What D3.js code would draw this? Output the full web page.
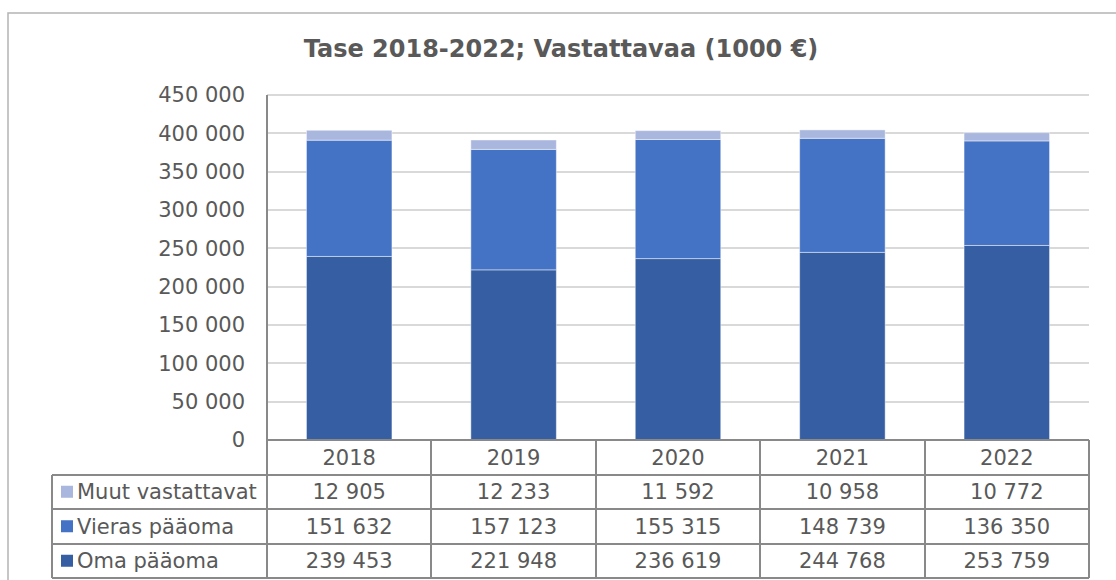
<!DOCTYPE html>
<meta charset="utf-8">
<head>
    <style>
        body {
            margin: 0;
            background: #fff;
        }

        svg text {
            font-family: 'DejaVu Sans', Verdana, sans-serif;
            fill: #595959;
        }

        .grid line {
            stroke: #d9d9d9;
            stroke-width: 2;
            shape-rendering: crispEdges;
        }

        .tbl line {
            stroke: #898989;
            stroke-width: 2;
            shape-rendering: crispEdges;
        }
    </style>
</head>

<body>
    <svg id="chart"></svg>

    <script src="https://cdnjs.cloudflare.com/ajax/libs/d3/7.8.5/d3.min.js"></script>
    <script>

        // data
        var years = ["2018", "2019", "2020", "2021", "2022"];
        var omaPaaoma = [239453, 221948, 236619, 244768, 253759];
        var vierasPaaoma = [151632, 157123, 155315, 148739, 136350];
        var muutVastattavat = [12905, 12233, 11592, 10958, 10772];
        var yTicks = [0, 50000, 100000, 150000, 200000, 250000, 300000, 350000, 400000, 450000];

        // series in stacking order (bottom first)
        var series = [
            { name: "Oma pääoma", values: omaPaaoma, color: "#365ea3" },
            { name: "Vieras pääoma", values: vierasPaaoma, color: "#4472c4" },
            { name: "Muut vastattavat", values: muutVastattavat, color: "#a9b6dd" }
        ];

        var W = 1116, H = 580;
        var plotLeft = 267, plotRight = 1089, plotTop = 95, plotBottom = 440;
        var rowH = 34.5;
        var tableLeft = 52;

        var fmt = d3.formatLocale({ decimal: ",", thousands: " ", grouping: [3] }).format(",d");

        var svg = d3.select("#chart")
            .attr("width", W)
            .attr("height", H);

        // chart frame, runs off the right and bottom edge
        svg.append("rect")
            .attr("x", 8).attr("y", 13)
            .attr("width", W + 20).attr("height", H + 20)
            .attr("fill", "none")
            .attr("stroke", "#b4b4b4")
            .attr("stroke-width", 1.5);

        svg.append("text")
            .attr("x", 561)
            .attr("y", 57)
            .attr("text-anchor", "middle")
            .style("font-size", "24px")
            .style("font-weight", "bold")
            .text("Tase 2018-2022; Vastattavaa (1000 €)");

        var x = d3.scaleBand()
            .domain(years)
            .range([plotLeft, plotRight])
            .padding(0);

        var y = d3.scaleLinear()
            .domain([0, 450000])
            .range([plotBottom, plotTop]);

        // gridlines
        svg.append("g")
            .attr("class", "grid")
            .selectAll("line")
            .data(yTicks.slice(1))
            .enter()
            .append("line")
            .attr("x1", plotLeft)
            .attr("x2", plotRight)
            .attr("y1", function (d) { return Math.round(y(d)); })
            .attr("y2", function (d) { return Math.round(y(d)); });

        // y axis labels
        var yAxis = svg.append("g")
            .attr("transform", "translate(" + plotLeft + ",0)")
            .call(d3.axisLeft(y).tickValues(yTicks).tickFormat(fmt).tickSize(0).tickPadding(22));
        yAxis.select(".domain").remove();
        yAxis.selectAll("text")
            .style("font-size", "21px")
            .attr("fill", "#595959");

        // stacked bars
        var rows = years.map(function (yr, i) {
            var r = { year: yr };
            series.forEach(function (s) { r[s.name] = s.values[i]; });
            return r;
        });
        var stack = d3.stack().keys(series.map(function (s) { return s.name; }));
        var stacked = stack(rows);

        var barW = x.bandwidth() * 0.52;

        svg.append("g")
            .selectAll("g")
            .data(stacked)
            .enter()
            .append("g")
            .attr("fill", function (d, i) { return series[i].color; })
            .selectAll("rect")
            .data(function (d) { return d; })
            .enter()
            .append("rect")
            .attr("x", function (d) { return x(d.data.year) + (x.bandwidth() - barW) / 2; })
            .attr("y", function (d) { return y(d[1]); })
            .attr("width", barW)
            .attr("height", function (d) { return y(d[0]) - y(d[1]); })
            .attr("stroke", "#fff")
            .attr("stroke-opacity", 0.45)
            .attr("stroke-width", 1);

        // data table under the plot
        var tbl = svg.append("g").attr("class", "tbl");
        var tableRows = series.slice().reverse();
        var tBottom = plotBottom + rowH * (tableRows.length + 1);

        // horizontal lines
        tbl.append("line")
            .attr("x1", plotLeft).attr("x2", plotRight)
            .attr("y1", plotBottom).attr("y2", plotBottom);
        d3.range(1, tableRows.length + 2).forEach(function (k) {
            tbl.append("line")
                .attr("x1", tableLeft).attr("x2", plotRight)
                .attr("y1", plotBottom + rowH * k).attr("y2", plotBottom + rowH * k);
        });

        // vertical lines
        tbl.append("line")
            .attr("x1", plotLeft).attr("x2", plotLeft)
            .attr("y1", plotTop).attr("y2", tBottom);
        tbl.append("line")
            .attr("x1", tableLeft).attr("x2", tableLeft)
            .attr("y1", plotBottom + rowH).attr("y2", tBottom);
        years.forEach(function (yr) {
            var xr = x(yr) + x.bandwidth();
            tbl.append("line")
                .attr("x1", xr).attr("x2", xr)
                .attr("y1", plotBottom).attr("y2", tBottom);
        });

        // year header
        tbl.selectAll("text.yr")
            .data(years)
            .enter()
            .append("text")
            .attr("class", "yr")
            .attr("x", function (d) { return x(d) + x.bandwidth() / 2; })
            .attr("y", plotBottom + rowH / 2)
            .attr("dy", "0.36em")
            .attr("text-anchor", "middle")
            .style("font-size", "21px")
            .text(function (d) { return d; });

        // series rows
        tableRows.forEach(function (s, k) {
            var cy = plotBottom + rowH * (k + 1.5);
            tbl.append("rect")
                .attr("x", 61).attr("y", cy - 6)
                .attr("width", 12).attr("height", 12)
                .attr("fill", s.color);
            tbl.append("text")
                .attr("x", 77)
                .attr("y", cy)
                .attr("dy", "0.36em")
                .style("font-size", "21px")
                .text(s.name);
            tbl.selectAll("text.v" + k)
                .data(s.values)
                .enter()
                .append("text")
                .attr("class", "v" + k)
                .attr("x", function (d, i) { return x(years[i]) + x.bandwidth() / 2; })
                .attr("y", cy)
                .attr("dy", "0.36em")
                .attr("text-anchor", "middle")
                .style("font-size", "21px")
                .text(function (d) { return fmt(d); });
        });

    </script>
</body>
